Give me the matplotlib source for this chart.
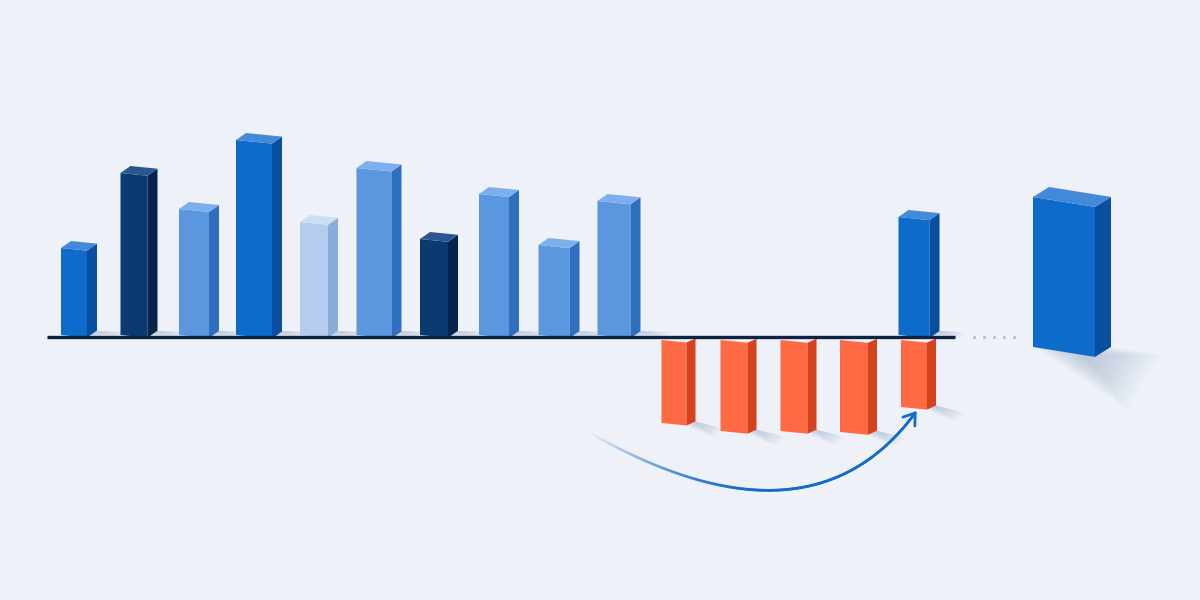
import matplotlib.pyplot as plt
import numpy as np
from matplotlib.collections import LineCollection
from matplotlib.patches import Polygon

# heights above the baseline, first group of bars
left_values = [87, 162, 126, 195, 113, 167, 96, 141, 90, 134]
left_kinds = ["blue", "navy", "mid", "blue", "pale", "mid", "navy", "mid", "mid", "mid"]
# bars hanging under the baseline
neg_values = [-88, -96, -96, -97, -72]
# lone bar over the last negative one, and the big bar past the dots
late_value = 118
big_value = 150

# styling
left_widths = [26, 27, 30, 36, 28, 35, 28, 30, 31, 33]
neg_widths = [25, 27, 27, 28, 26]
PALETTE = {
    "blue": ("#0c6bcb", "#0a4f9f", "#4389da"),
    "navy": ("#0b3a70", "#06244c", "#2a5690"),
    "mid": ("#5b97df", "#2f6fc0", "#7dafec"),
    "pale": ("#b4cdee", "#89acdb", "#cddff5"),
    "orange": ("#ff6a45", "#d4431e", "#ff8f6d"),
}
BG = "#eef2f8"
SLOT = 60.0  # pixels per slot
X0 = 74.0  # pixel centre of slot 0
BASE_PX = 335.0


def px(w):
    return w / SLOT


def draw_box(ax, xc, w, base, top, kind, depth=10, rise=7, skew=0.1, z=3, lid=True):
    front, side, lid_col = PALETTE[kind]
    x0, x1 = xc - px(w) / 2, xc + px(w) / 2
    d = px(depth)
    s = skew * w
    ax.add_patch(Polygon([(x0, base), (x1, base - s), (x1, top - s), (x0, top)],
                         closed=True, fc=front, ec="none", zorder=z))
    ax.add_patch(Polygon([(x1, base - s), (x1 + d, base - s + rise),
                          (x1 + d, top - s + rise), (x1, top - s)],
                         closed=True, fc=side, ec="none", zorder=z))
    if lid:
        ax.add_patch(Polygon([(x0, top), (x1, top - s), (x1 + d, top - s + rise),
                              (x0 + d, top + rise)],
                             closed=True, fc=lid_col, ec="none", zorder=z))
    return x0, x1, d, s


def floor_shadow(ax, pts, steps=8, alpha=0.05, color="#6f86b3", z=2):
    pts = np.array(pts, dtype=float)
    anchor = pts[0]
    for k in range(steps):
        f = 1 - k / steps
        p = anchor + (pts - anchor) * f
        ax.add_patch(Polygon(p, closed=True, fc=color, ec="none", alpha=alpha, zorder=z))


fig = plt.figure(figsize=(12, 6), dpi=100)
fig.patch.set_facecolor(BG)
ax = fig.add_axes([0, 0, 1, 1])
ax.set_facecolor(BG)
ax.set_xlim(-X0 / SLOT, (1200 - X0) / SLOT)
ax.set_ylim(BASE_PX - 600, BASE_PX)
ax.axis("off")

# first group
for i, (v, kind, w) in enumerate(zip(left_values, left_kinds, left_widths)):
    x0, x1, d, s = draw_box(ax, i, w, 0, v, kind)
    floor_shadow(ax, [(x1 + d, 4), (x1, -s), (x1 + px(34), -3), (x1 + px(40), 3)])

# negative bars
for j, (v, w) in enumerate(zip(neg_values, neg_widths)):
    xc = 10 + j
    x0, x1, d, s = draw_box(ax, xc, w, v, -5, "orange", depth=9, rise=4,
                            skew=0.1, lid=False)
    floor_shadow(ax, [(x1 + d, v - s + 4), (x1, v - s), (x1 + px(26), v - 14),
                      (x1 + px(38), v - 6)])

# lone bar in slot 14
x0, x1, d, s = draw_box(ax, 14, 31, 0, late_value, "blue")
floor_shadow(ax, [(x1 + d, 4), (x1, -s), (x1 + px(30), -3), (x1 + px(36), 3)])

# big bar, sitting a bit lower (closer to the viewer)
big_base = -12
x0, x1, d, s = draw_box(ax, 16.5, 62, big_base, big_base + big_value, "blue",
                        depth=16, rise=10, skew=0.16, z=4)
floor_shadow(ax, [(x1 - px(10), big_base - s + 2), (x0, big_base),
                  (x0 + px(95), big_base - 62), (x1 + px(50), big_base - 30),
                  (x1 + px(66), big_base - 8), (x1 + d, big_base - s + 10)],
             steps=12, alpha=0.035)

# baseline and the dotted gap
ax.plot([px(47 - X0), px(955 - X0)], [-2, -2], color="#0d2340", lw=2.4,
        solid_capstyle="butt", zorder=5)
dots_x = 15 + np.arange(5) * px(10)
ax.scatter(dots_x, [-2] * 5, s=5, color="#b3bfd0", zorder=5, linewidths=0)

# curved arrow under the negative bars, fading in from the left
p0 = np.array([8.57, -97.0])
p2 = np.array([14.02, neg_values[-1] - 6.0])
p1 = np.array([12.24, -222.5])
t = np.linspace(0, 1, 200)[:, None]
curve = (1 - t) ** 2 * p0 + 2 * t * (1 - t) * p1 + t ** 2 * p2
segs = np.stack([curve[:-1], curve[1:]], axis=1)
fade = np.clip(np.linspace(0, 1, len(segs)) / 0.45, 0, 1)
cols = [(0.08, 0.42, 0.79, a) for a in fade]
ax.add_collection(LineCollection(segs, colors=cols, linewidths=2.0,
                                 capstyle="round", zorder=6))

# arrow head, built in pixel space then mapped back
tan = (p2 - p1) * np.array([SLOT, 1.0])
tan /= np.hypot(*tan)
for ang in (np.radians(35), -np.radians(35)):
    c, sn = np.cos(ang), np.sin(ang)
    back = -np.array([tan[0] * c - tan[1] * sn, tan[0] * sn + tan[1] * c]) * 13
    ax.plot([p2[0], p2[0] + back[0] / SLOT], [p2[1], p2[1] + back[1]],
            color="#146bc9", lw=2.0, solid_capstyle="round", zorder=6)

fig.savefig("out.png", dpi=100, facecolor=BG)
